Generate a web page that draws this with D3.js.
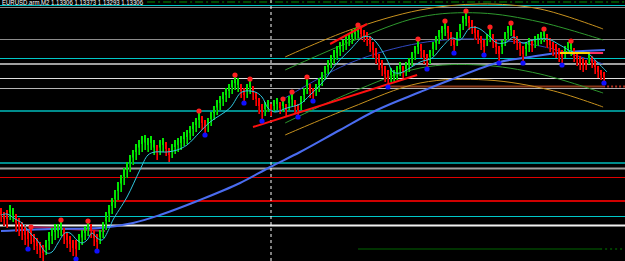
<!DOCTYPE html>
<html>
<head>
<meta charset="utf-8">
<script src="https://cdn.jsdelivr.net/npm/d3@7"></script>
<style>
body { margin: 0; background: #000; }
svg { display: block; }
</style>
</head>
<body>
<div id="chart"></div>
<script>
// all prices are in points above 1.13100 (1 point = 0.00001)
var quote = ["EURUSD.arm,M2", "1.13306", "1.13373", "1.13293", "1.13306"];

// heiken ashi style columns, one per M2 bar
var hi = [76,72,74,79,76,70,66,62,59,54, 56,50,46,42,39,44,52,56,60,60,
  63,56,52,48,44,44,50,54,58,62, 60,54,50,54,62,72,79,86,94,102,
  109,116,122,129,134,140,144,148,149,146, 148,144,139,144,146,142,136,140,144,146,
  148,152,154,158,162,166,172,168,164,166, 172,178,184,188,192,196,200,204,208,206,
  200,196,200,204,198,192,186,180,182,184, 180,184,186,182,184,180,188,191,184,180,
  188,196,206,200,196,200,206,212,218,224, 229,234,238,242,244,248,250,254,256,258,
  256,254,252,248,242,236,230,224,218,214, 216,214,218,222,218,222,226,232,238,244,
  240,234,230,234,242,248,254,258,262,258, 252,246,252,260,268,272,268,264,258,254,
  248,244,250,256,250,244,238,244,252,258, 260,254,248,242,238,242,246,244,248,250,
  252,254,250,246,242,240,236,234,238,242, 242,236,232,228,226,224,232,228,224,218,
  214,212];
var lo = [62,58,56,64,62,52,48,44,39,36, 40,34,30,26,23,29,34,40,44,46,
  48,40,36,32,28,26,34,39,44,48, 46,38,34,40,46,54,62,70,76,84,
  92,99,106,112,119,124,129,132,134,132, 134,129,124,129,132,128,122,126,130,132,
  134,138,140,144,148,152,156,154,150,152, 158,164,169,174,178,182,186,190,194,192,
  186,182,186,190,184,178,170,164,168,172, 168,172,174,170,172,168,174,178,170,168,
  174,182,190,186,184,188,192,198,204,210, 216,220,224,228,232,234,238,240,244,246,
  244,242,238,232,226,220,214,208,202,198, 202,202,204,208,206,208,212,218,224,230,
  226,220,216,220,228,234,240,244,248,244, 238,232,238,246,254,258,254,250,244,240,
  234,230,238,242,236,230,222,230,238,244, 248,240,234,228,222,228,232,232,236,238,
  240,242,236,232,228,226,222,220,226,230, 228,222,218,214,212,214,220,216,210,206,
  204,202];
// g = up column, r = down column
var dir = ("rrrgg" + "rrrrrrrrrr" + "gggggg" + "rrrrr" + "gggg" + "rrr" +
  "ggggggggggggggggggg" + "r" + "gg" + "rr" + "gggggggggg" + "rr" + "ggggggggggg" +
  "rr" + "gg" + "rrrr" + "gg" + "r" + "gg" + "r" + "g" + "r" + "gg" + "rr" + "ggg" +
  "rr" + "ggggggggggggggg" + "rrrrrrrrrr" + "gggg" + "r" + "ggggg" + "rrr" + "gggggg" +
  "rrr" + "gggg" + "rrrrrr" + "gg" + "rrr" + "gggg" + "rrrr" + "gg" + "r" + "gggg" +
  "rrrrrr" + "ggg" + "rrrrr" + "g" + "rrrrr").split("");

var upFractals = [10, 20, 29, 66, 78, 83, 94, 97, 102, 119, 139, 148, 155, 163, 170, 181, 190];
var downFractals = [9, 25, 32, 68, 81, 87, 99, 104, 129, 142, 151, 161, 166, 174, 187, 201];

// [bar, price]
var fastMA = [[0,69],[2,70],[4.7,65],[7,61],[9.7,51],[12,44],[15.3,31],[17,32],[19,41],
  [21.3,51],[23,51],[25.3,44],[27,41],[28.7,44],[30.3,51],[32,46],[33.7,44],[36.3,57],
  [37.3,64],[42,87],[46.3,114],[49,129],[51.3,132],[55.3,132],[58.7,134],[62,139],
  [66.3,152],[69.7,162],[76.3,176],[80.3,192],[84.7,192],[87,187],[89,176],[91.3,172],
  [95.3,176],[99.7,180],[103,189],[107.3,202],[112,221],[116.3,234],[120.7,247],[123,247],
  [125.3,241],[128.7,224],[130.7,212],[133,211],[136.3,216],[139.7,222],[143.7,226],
  [147,237],[150.3,246],[153,244],[156.3,256],[159,256],[163,247],[165.3,241],[168.7,242],
  [170.7,247],[174,241],[177.3,244],[182.3,245],[186.3,239],[190.7,232],[195.3,231],
  [198.7,222],[202,212]];
var slowMA = [[0,53],[16.3,55],[33,56],[44,61],[53,69],[66.3,84],[79.7,101],[89.7,117],
  [99.7,132],[113,154],[125.3,174],[139.7,192],[149.7,204],[166.3,222],[176.3,227],
  [188.7,232],[201.3,234]];

// regression channel
var regCenter = [[94.7,186],[116.3,221],[139.7,241],[159.7,245],[179.7,238],[200.7,220]];
var regUp1 = [[94.7,214],[116.3,242],[139.7,267],[159.7,271],[179.7,262],[200.7,244]];
var regDn1 = [[94.7,161],[116.3,191],[139.7,216],[159.7,219],[179.7,210],[200.7,191]];
var regUp2 = [[94.7,227],[116.3,254],[139.7,274],[159.7,280],[179.7,275],[200.7,255]];
var regDn2 = [[94.7,149],[116.3,176],[139.7,201],[162,204],[183,194],[200.7,177]];

// trend lines [bar1, price1, bar2, price2]
var trendLines = [[84,157,138.7,209],[109.7,240,122,260]];
var oldRegLine = [[10.7,57],[34.7,53]];

// full width levels
var levelPrices = [278.5, 276.5, 244.5, 225.5, 220, 205.5, 195.5, 173, 121, 115.5, 106.5, 83, 67.5, 58.5];
var levelKinds  = ["cyan","gray","gray","cyan","gray2","white","silver","teal","teal","gray2","red","red2","cyan","white2"];

// partial levels [fromBar, toBar, price]
var greenDash = [48.7, 208, 282];
var brownLevel = [129, 200.7, 197.5];
var bottomLevel = [119, 199.7, 35];
var yellowSeg = [186.3, 196.3, 231];
var pinkSeg = [196.3, 200.7, 231];
var lastBar = 208;
var cursorBar = 90;

var width = 625, height = 261;
var levelStyle = {
  cyan:   {c: "#00c8c8", w: 1},
  gray:   {c: "#8c8c8c", w: 1},
  gray2:  {c: "#a0a0a0", w: 2},
  white:  {c: "#e0e0e0", w: 1},
  white2: {c: "#f0f0f0", w: 2},
  silver: {c: "#b4b4b4", w: 1},
  teal:   {c: "#008c8c", w: 2},
  red:    {c: "#e00000", w: 1},
  red2:   {c: "#d00000", w: 2}
};

var svg = d3.select("#chart").append("svg")
  .attr("width", width).attr("height", height)
  .style("background", "#000");

var x = d3.scaleLinear().domain([0, 201]).range([1, 604]);
var y = d3.scaleLinear().domain([23, 284]).range([height, 0]);

// levels
svg.append("g").selectAll("line")
  .data(levelPrices)
  .enter().append("line")
  .attr("x1", 0).attr("x2", width)
  .attr("y1", d => y(d)).attr("y2", d => y(d))
  .attr("stroke", (d, i) => levelStyle[levelKinds[i]].c)
  .attr("stroke-width", (d, i) => levelStyle[levelKinds[i]].w);

function seg(s, color, w, dash) {
  svg.append("line")
    .attr("x1", x(s[0])).attr("x2", x(s[1]))
    .attr("y1", y(s[2])).attr("y2", y(s[2]))
    .attr("stroke", color).attr("stroke-width", w)
    .attr("stroke-dasharray", dash || null);
}
seg(greenDash, "#009000", 1, "8,3,2,3");
seg(brownLevel, "#8b3a1a", 2);
seg([brownLevel[1], lastBar, brownLevel[2]], "#b03020", 2, "2,2");
seg(bottomLevel, "#006400", 1);
seg([bottomLevel[1], lastBar, bottomLevel[2]], "#008000", 1, "2,3");

// cursor line
svg.append("line")
  .attr("x1", x(cursorBar)).attr("x2", x(cursorBar))
  .attr("y1", 0).attr("y2", height)
  .attr("stroke", "#ffffff").attr("stroke-dasharray", "3,3");

var line = d3.line().x(d => x(d[0])).y(d => y(d[1]));
var smooth = d3.line().x(d => x(d[0])).y(d => y(d[1])).curve(d3.curveCatmullRom);

svg.append("path").datum(oldRegLine).attr("d", line)
  .attr("fill", "none").attr("stroke", "#a01850").attr("stroke-width", 2);

// regression channel
[[regUp2, "#c8921e"], [regDn2, "#c8921e"], [regUp1, "#2e9a2e"], [regDn1, "#2e9a2e"], [regCenter, "#3048c0"]]
  .forEach(function(p) {
    svg.append("path").datum(p[0]).attr("d", smooth)
      .attr("fill", "none").attr("stroke", p[1]).attr("stroke-width", 1);
  });

// slow MA
svg.append("path").datum(slowMA).attr("d", smooth)
  .attr("fill", "none").attr("stroke", "#4a6cf0").attr("stroke-width", 2);

// bars: bright body plus a darker lower half on down columns / upper shade on up columns
var bars = d3.range(hi.length);
svg.append("g").selectAll("rect")
  .data(bars)
  .enter().append("rect")
  .attr("x", i => x(i) - 1)
  .attr("width", 2)
  .attr("y", i => y(hi[i]))
  .attr("height", i => y(lo[i]) - y(hi[i]))
  .attr("fill", i => dir[i] === "g" ? "#00e600" : "#ff0000");
svg.append("g").selectAll("rect")
  .data(bars)
  .enter().append("rect")
  .attr("x", i => x(i) - 1)
  .attr("width", 1)
  .attr("y", i => dir[i] === "g" ? y((hi[i] + lo[i]) / 2) : y((hi[i] + lo[i]) / 2))
  .attr("height", i => (y(lo[i]) - y(hi[i])) / 2)
  .attr("fill", i => dir[i] === "g" ? "#009000" : "#a00000");

// fast MA
svg.append("path").datum(fastMA).attr("d", smooth)
  .attr("fill", "none").attr("stroke", "#30c8e0").attr("stroke-width", 1);

// trend lines
svg.append("g").selectAll("line")
  .data(trendLines)
  .enter().append("line")
  .attr("x1", d => x(d[0])).attr("y1", d => y(d[1]))
  .attr("x2", d => x(d[2])).attr("y2", d => y(d[3]))
  .attr("stroke", "#ff1010").attr("stroke-width", 2);

seg(yellowSeg, "#ffd700", 2);
seg(pinkSeg, "#ff3060", 2);

// fractals
svg.append("g").selectAll("circle")
  .data(upFractals)
  .enter().append("circle")
  .attr("cx", i => x(i)).attr("cy", i => y(hi[i]) - 1)
  .attr("r", 2.6).attr("fill", "#ff2020");
svg.append("g").selectAll("circle")
  .data(downFractals)
  .enter().append("circle")
  .attr("cx", i => x(i)).attr("cy", i => y(lo[i]) + 1)
  .attr("r", 2.6).attr("fill", "#1010ff");

// header
svg.append("text")
  .attr("x", 2).attr("y", 5)
  .attr("fill", "#ffffff")
  .style("font-family", "Liberation Sans, Arial, sans-serif")
  .style("font-size", "7px")
  .attr("textLength", 141).attr("lengthAdjust", "spacingAndGlyphs")
  .text(quote[0] + "  " + quote.slice(1).join(" "));
</script>
</body>
</html>
